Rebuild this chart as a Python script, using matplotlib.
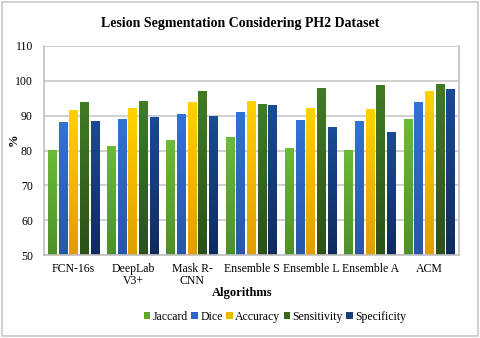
import matplotlib
matplotlib.use("Agg")
import matplotlib.pyplot as plt
import numpy as np
from matplotlib.patches import Rectangle, Patch
from matplotlib.colors import LinearSegmentedColormap

categories = ["FCN-16s", "DeepLab\nV3+", "Mask R-\nCNN", "Ensemble S", "Ensemble L", "Ensemble A", "ACM"]
series = ["Jaccard", "Dice", "Accuracy", "Sensitivity", "Specificity"]
jaccard = [80.0, 81.2, 82.8, 83.8, 80.6, 80.0, 88.9]
dice = [88.1, 89.0, 90.4, 90.8, 88.6, 88.3, 93.9]
accuracy = [91.6, 92.2, 93.7, 94.0, 92.1, 91.9, 96.8]
sensitivity = [93.8, 94.2, 96.9, 93.2, 97.9, 98.7, 98.9]
specificity = [88.4, 89.4, 89.7, 92.9, 86.5, 85.1, 97.5]
values = [jaccard, dice, accuracy, sensitivity, specificity]

top_colors = ["#6cbb38", "#3272d8", "#ffd200", "#417c25", "#1b4b93"]
bot_colors = ["#4f8f2a", "#2a56a6", "#e09e00", "#2c5019", "#0f2b5e"]
legend_colors = ["#5fa832", "#2f66c4", "#f2b800", "#376a1f", "#173f7c"]

plt.rcParams['font.family'] = ['Liberation Serif', 'DejaVu Serif']

fig = plt.figure(figsize=(4.8, 3.38), dpi=100)
ax = fig.add_axes([44/480, 1-255/338, 415/480, 209/338])

x = np.arange(len(categories))
step = 0.18
width = 0.15
ymin = 50
grad = np.linspace(1, 0, 64).reshape(-1, 1)
for i, (name, vals) in enumerate(zip(series, values)):
    cmap = LinearSegmentedColormap.from_list(name, [bot_colors[i], top_colors[i]])
    offs = (i - 2) * step
    for xi, v in zip(x, vals):
        x0 = xi + offs - width / 2
        ax.imshow(grad, extent=(x0, x0 + width, ymin, v), aspect='auto', cmap=cmap,
                  vmin=0, vmax=1, zorder=2, interpolation='bilinear')

ax.set_xlim(-0.5, len(categories) - 0.5)
ax.set_ylim(50, 110)
ax.set_yticks(range(50, 111, 10))
ax.yaxis.grid(True, color="#c8c8c8", linewidth=1.2, zorder=0)
ax.set_axisbelow(True)
ax.set_xticks(x)
ax.set_xticklabels(categories, fontsize=8.5, linespacing=1.0)
ax.tick_params(axis='y', labelsize=8.5, length=0, pad=8)
ax.tick_params(axis='x', length=0, pad=6)
for s in ["left", "right", "bottom"]:
    ax.spines[s].set_color("#bfbfbf")
    ax.spines[s].set_linewidth(1.2)
ax.spines["top"].set_visible(False)

fig.text(0.5 + 2/480, 1 - 293/338, "Algorithms", ha='center', va='center',
         fontsize=9, fontweight='bold')
fig.text(14/480, 1 - 140/338, "%", ha='center', va='center', rotation=90,
         fontsize=9, fontweight='bold')
fig.text(0.5, 1 - 24/338, "Lesion Segmentation Considering PH2 Dataset",
         ha='center', va='center', fontsize=10, fontweight='bold')

handles = [Patch(facecolor=c, edgecolor='none', label=n) for c, n in zip(legend_colors, series)]
fig.legend(handles=handles, loc='center', bbox_to_anchor=(275/480, 1 - 317/338), ncol=5,
           frameon=False, fontsize=8.5, handlelength=0.55, handleheight=0.55,
           handletextpad=0.2, columnspacing=0.3, borderpad=0)

fig.patches.append(Rectangle((2/480, 2/338), 476/480, 334/338, transform=fig.transFigure,
                             fill=False, edgecolor="#c8c8c8", linewidth=1.2))

fig.savefig("out.png", dpi=100)
